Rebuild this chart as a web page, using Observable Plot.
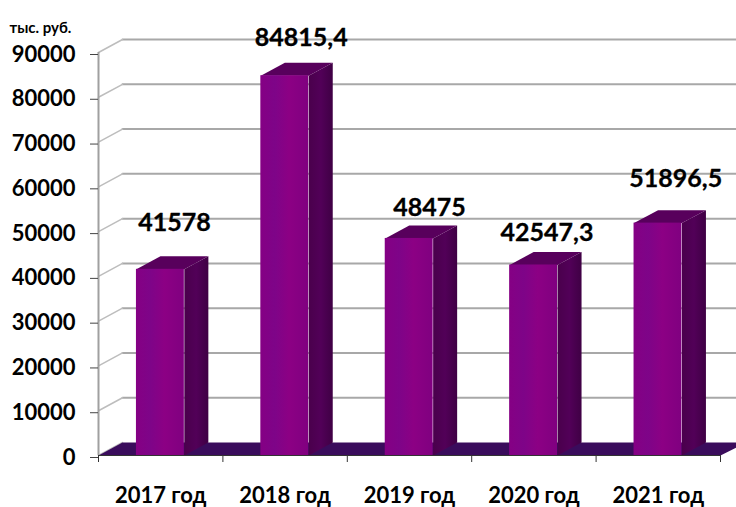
<!DOCTYPE html>
<html>
<head>
<meta charset="utf-8">
<style>html,body{margin:0;padding:0;background:#fff;overflow:hidden}svg{display:block}</style>
<script src="https://cdn.jsdelivr.net/npm/d3@7"></script>
<script src="https://cdn.jsdelivr.net/npm/@observablehq/plot@0.6"></script>
</head>
<body>
<div id="chart"></div>
<script>
const years = ["2017 год", "2018 год", "2019 год", "2020 год", "2021 год"];
const amounts = [41578, 84815.4, 48475, 42547.3, 51896.5];
const yTicks = [0, 10000, 20000, 30000, 40000, 50000, 60000, 70000, 80000, 90000];
const slotEdges = [0, 1, 2, 3, 4, 5];
const unitLabel = "тыс. руб.";

// Label placement relative to each bar, in data units (slots, rubles)
const labelShiftX = [0.11, 0.13, 0.16, 0.105, 0.14];
const labelLift = [10400, 8500, 6900, 7100, 9900];

// Pseudo-3D depth expressed in data units
const depthX = 0.193, depthY = 2900;
const barStart = 0.305, barEnd = 0.69;
const rightEdge = 5.13;

const ix = years.map((_, i) => i);
const face = (build) => ix.flatMap(i => build(i, i + barStart, i + barEnd, amounts[i]).map(([x, y]) => ({i, x, y})));
const sides = face((i, a, b, v) => [[b, 0], [b + depthX, depthY], [b + depthX, v + depthY], [b, v]]);
const tops = face((i, a, b, v) => [[a, v], [a + depthX, v + depthY], [b + depthX, v + depthY], [b, v]]);
const floor = [[0, 0], [depthX, depthY], [rightEdge, depthY], [rightEdge, 1800], [5, 0]].map(([x, y]) => ({x, y}));
const walls = yTicks.flatMap(t => [[0, t], [depthX, t + depthY]].map(([x, y]) => ({t, x, y})));
const backs = yTicks.filter(t => t > 0).flatMap(t => [[depthX, t + depthY], [rightEdge, t + depthY]].map(([x, y]) => ({t, x, y})));

const defs = () => {
  const d = d3.create("svg:defs");
  const g = d.append("linearGradient").attr("id", "front");
  [[0, "#850084"], [0.3, "#7e0488"], [0.6, "#8c0084"], [1, "#800080"]]
    .forEach(([o, c]) => g.append("stop").attr("offset", o).attr("stop-color", c));
  const s = d.append("linearGradient").attr("id", "side");
  [[0, "#4a004c"], [0.5, "#520058"], [1, "#3f0044"]]
    .forEach(([o, c]) => s.append("stop").attr("offset", o).attr("stop-color", c));
  return d.node();
};

const chart = Plot.plot({
  width: 736,
  height: 507,
  marginLeft: 98,
  marginRight: 16,
  marginTop: 52,
  marginBottom: 52,
  style: {fontFamily: "Lato, 'Open Sans', sans-serif", fontWeight: "bold", fontSize: "22px", color: "#000", background: "#fff", overflow: "hidden"},
  x: {domain: [0, 5], axis: null},
  y: {domain: [0, 90000], axis: null},
  marks: [
    defs,
    Plot.line(backs, {x: "x", y: "y", z: "t", stroke: "#a8a8a8", strokeWidth: 2}),
    Plot.line(walls, {x: "x", y: "y", z: "t", stroke: "#bdbdbd", strokeWidth: 1.5}),
    Plot.ruleX([0], {y1: 0, y2: 90000, stroke: "#a0a0a0", strokeWidth: 2}),
    Plot.line(floor, {x: "x", y: "y", fill: "#3a0c5c", stroke: "none"}),
    Plot.line(sides, {x: "x", y: "y", z: "i", fill: "url(#side)", stroke: "none"}),
    Plot.line(tops, {x: "x", y: "y", z: "i", fill: "#58005c", stroke: "none"}),
    Plot.rect(ix, {x1: i => i + barStart, x2: i => i + barEnd, y1: 0, y2: i => amounts[i], fill: "url(#front)"}),
    Plot.ruleY([0], {x1: 0, x2: 5, stroke: "#333", strokeWidth: 1.2}),
    Plot.axisY({ticks: yTicks, tickSize: 8, tickPadding: 15, tickFormat: d => String(d), stroke: "#444", dy: 2, label: null}),
    Plot.axisX({anchor: "bottom", ticks: slotEdges, tickSize: 7, tickFormat: () => "", stroke: "#333", label: null}),
    Plot.text(ix, {x: i => i + 0.5, y: 0, text: i => years[i], dy: 40}),
    Plot.text(ix, {x: i => i + 0.5 + labelShiftX[i], y: i => amounts[i] + labelLift[i], text: i => String(amounts[i]).replace(".", ","), fontSize: 25, fill: "#000", stroke: "#000", strokeWidth: 0.3}),
    Plot.text([unitLabel], {frameAnchor: "top-left", dx: -89, dy: -30, fontSize: 15, textAnchor: "start"})
  ]
});
document.getElementById("chart").append(chart);
</script>
</body>
</html>
